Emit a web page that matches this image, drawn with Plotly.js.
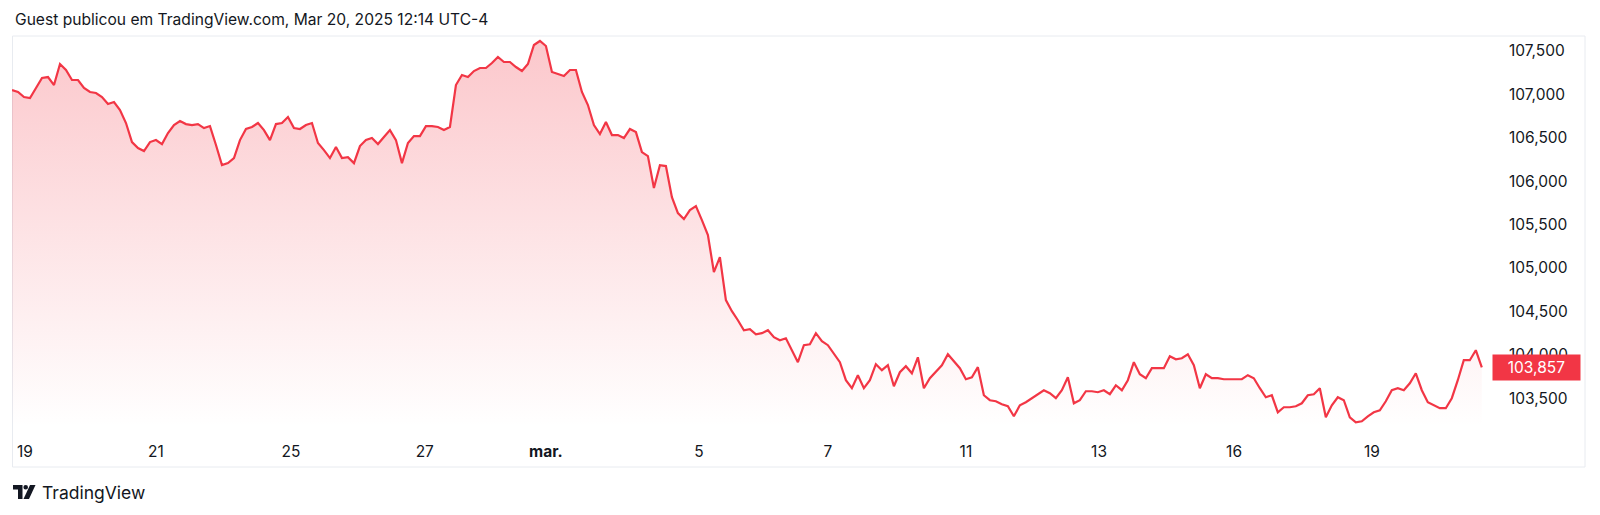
<!DOCTYPE html>
<html><head><meta charset="utf-8">
<script src="https://cdn.plot.ly/plotly-3.0.1.min.js"></script>
<style>html,body{margin:0;padding:0;background:#fff;}#chart{width:1600px;height:515px;}</style>
</head><body><div id="chart"></div>
<script>
// DXY-style price series (one sample per time step)
const prices = [
107048,107025,106967,106956,107071,107186,107197,107105,107347,107278,
107163,107163,107071,107025,107013,106967,106887,106910,106818,106668,
106449,106380,106346,106449,106472,106426,106553,106645,106691,106656,
106645,106656,106610,106633,106415,106184,106207,106265,106472,106599,
106622,106668,106587,106472,106656,106668,106737,106610,106599,106645,
106668,106438,106357,106265,106392,106265,106276,106207,106403,106472,
106495,106426,106507,106587,106472,106207,106438,106518,106518,106633,
106633,106622,106587,106622,107105,107220,107197,107266,107301,107301,
107358,107428,107370,107370,107312,107266,107347,107566,107612,107554,
107255,107232,107209,107278,107278,107025,106875,106645,106541,106679,
106530,106530,106495,106599,106564,106334,106288,105920,106184,106173,
105816,105632,105563,105666,105712,105551,105379,104953,105126,104631,
104504,104400,104285,104297,104239,104251,104285,104205,104170,104193,
104055,103917,104113,104124,104251,104159,104113,104021,103917,103710,
103618,103768,103618,103710,103894,103825,103882,103641,103802,103871,
103790,103974,103618,103733,103813,103882,104009,103929,103848,103721,
103744,103860,103537,103480,103468,103434,103411,103295,103422,103457,
103503,103549,103595,103560,103503,103595,103744,103445,103480,103583,
103583,103572,103595,103549,103652,103595,103710,103917,103779,103733,
103848,103848,103848,103986,103951,103963,104009,103882,103618,103779,
103733,103733,103721,103721,103721,103721,103768,103733,103618,103514,
103537,103341,103399,103399,103411,103445,103537,103549,103618,103284,
103422,103514,103480,103284,103226,103238,103295,103341,103364,103468,
103595,103618,103595,103675,103790,103595,103457,103422,103388,103388,
103503,103710,103940,103940,104055,103857
];
const dateTickPositions = [2.17, 24, 46.5, 68.8, 89, 114.5, 136, 159, 181.2, 203.7, 226.7];
const dateTickLabels = ['19','21','25','27','<b>mar.</b>','5','7','11','13','16','19'];
const priceTicks = [103500,104000,104500,105000,105500,106000,106500,107000,107500];
const headerText = 'Guest publicou em TradingView.com, Mar 20, 2025 12:14 UTC-4';
const brandText = 'TradingView';

const RED = '#F23645';
const TXT = '#131722';
const FONT = 'Inter, "Liberation Sans", sans-serif';
const yMin = 103172, yMax = 107669;
const idx = prices.map((_, i) => i);
const last = prices[prices.length - 1];

const trace = {
  x: idx, y: prices, type: 'scatter', mode: 'lines',
  line: {color: RED, width: 2.2},
  fill: 'tozeroy',
  fillgradient: {type: 'vertical', start: yMin, stop: yMax,
    colorscale: [[0, 'rgba(242,54,69,0.0)'], [1, 'rgba(242,54,69,0.28)']]},
  hoverinfo: 'skip'
};

// plot area: x 12..1483, y 36..427
const L = 12, R = 1483, T = 36, B = 427;
const W = R - L, H = B - T;
const px = v => (v - L) / W;
const py = v => (B - v) / H;

const layout = {
  width: 1600, height: 515,
  margin: {l: L, r: 1600 - R, t: T, b: 515 - B},
  paper_bgcolor: '#fff', plot_bgcolor: 'rgba(0,0,0,0)',
  showlegend: false,
  font: {family: FONT, color: TXT, size: 14},
  xaxis: {
    range: [0, 245.2], showgrid: false, zeroline: false, showline: false,
    tickmode: 'array', tickvals: dateTickPositions, ticktext: dateTickLabels,
    ticks: '', ticklabelstandoff: 13, tickfont: {size: 15.5, color: TXT}, fixedrange: true
  },
  yaxis: {
    range: [yMin, yMax], side: 'right', showgrid: false, zeroline: false, showline: false,
    tickmode: 'array', tickvals: priceTicks, tickformat: ',d',
    ticks: '', ticklabelstandoff: 25, tickfont: {size: 15.5, color: TXT}, fixedrange: true
  },
  shapes: [
    {type: 'rect', xref: 'paper', yref: 'paper', x0: px(12.5), x1: px(1585), y0: py(467), y1: py(36),
     line: {color: '#e8ebf0', width: 1}, fillcolor: 'rgba(0,0,0,0)', layer: 'below'},
    // TradingView logo
    {type: 'path', xref: 'paper', yref: 'paper', xsizemode: 'pixel', ysizemode: 'pixel',
     xanchor: px(13), yanchor: py(499), path: 'M0,14 L9.5,14 L9.5,0 L5,0 L5,9.6 L0,9.6 Z',
     fillcolor: TXT, line: {width: 0}},
    {type: 'circle', xref: 'paper', yref: 'paper', xsizemode: 'pixel', ysizemode: 'pixel',
     xanchor: px(13), yanchor: py(499), x0: 10.4, x1: 15, y0: 9.4, y1: 14,
     fillcolor: TXT, line: {width: 0}},
    {type: 'path', xref: 'paper', yref: 'paper', xsizemode: 'pixel', ysizemode: 'pixel',
     xanchor: px(13), yanchor: py(499), path: 'M10.5,0 L16,0 L22.5,14 L17,14 Z',
     fillcolor: TXT, line: {width: 0}}
  ],
  annotations: [
    {xref: 'paper', yref: 'paper', x: px(13), y: py(19.5), xanchor: 'left', yanchor: 'middle',
     text: headerText, showarrow: false, font: {size: 15.6, color: TXT, family: FONT}},
    {xref: 'paper', yref: 'paper', x: px(40), y: py(492), xanchor: 'left', yanchor: 'middle',
     text: brandText, showarrow: false, font: {size: 17.5, color: TXT, family: FONT}},
    {xref: 'paper', yref: 'y', x: 1, y: last, xanchor: 'left', yanchor: 'middle', xshift: 9,
     text: last.toLocaleString('en-US'), showarrow: false, bgcolor: RED, borderpad: 3,
     width: 81, align: 'center', font: {size: 15.5, color: '#fff', family: FONT}}
  ]
};

Plotly.newPlot('chart', [trace], layout, {displayModeBar: false, staticPlot: true});
</script>
</body></html>
